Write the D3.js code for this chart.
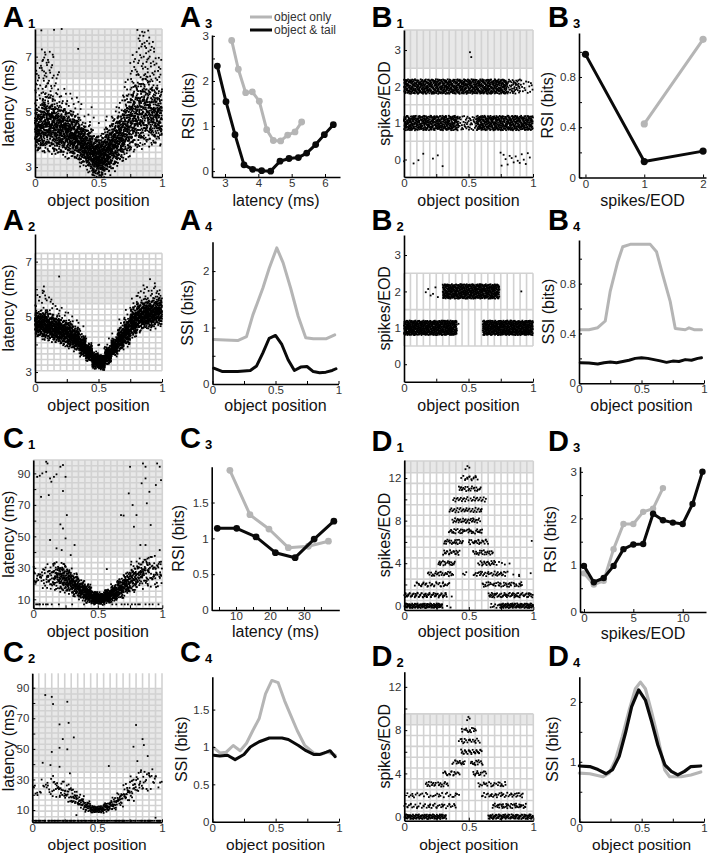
<!DOCTYPE html>
<html><head><meta charset="utf-8">
<script src="https://cdn.jsdelivr.net/npm/d3@7"></script>
<style>
body{margin:0;background:#fff}
svg{display:block}
text{font-family:"Liberation Sans",Arial,Helvetica,sans-serif}
</style>
</head><body>
<svg id="fig" width="709" height="853"></svg>
<script>
// ===================== DATA =====================
// --- A3: RSI vs latency
const A3_latOnly = [3.2,3.4,3.62,3.82,4.03,4.25,4.45,4.67,4.88,5.1,5.3];
const A3_rsiOnly = [2.9,2.26,1.74,1.76,1.55,0.92,0.68,0.67,0.8,0.87,1.09];
const A3_latTail = [2.77,3.03,3.3,3.57,3.83,4.1,4.37,4.65,4.92,5.2,5.45,5.72,5.98,6.25];
const A3_rsiTail = [2.33,1.54,0.81,0.14,0.04,0.01,0.0,0.22,0.28,0.3,0.4,0.59,0.81,1.03];
// --- B3: RSI vs spikes/EOD
const B3_spkOnly = [1,2];
const B3_rsiOnly = [0.426,1.1];
const B3_spkTail = [0,1,2];
const B3_rsiTail = [0.98,0.127,0.21];
// --- C3
const C3_latOnly = [8.2,14.1,19.7,25.4,31.3,37.2];
const C3_rsiOnly = [1.95,1.33,1.13,0.87,0.89,0.96];
const C3_latTail = [4.5,10.2,15.9,21.6,27.4,33.0,38.8];
const C3_rsiTail = [1.14,1.14,1.02,0.8,0.73,0.99,1.24];
// --- D3
const D3_spkOnly = [0,1,2,3,4,5,6,7,8];
const D3_rsiOnly = [0.82,0.58,0.66,1.34,1.88,1.88,2.14,2.21,2.65];
const D3_spkTail = [0,1,2,3,4,5,6,7,8,9,10,11,12];
const D3_rsiTail = [0.98,0.63,0.72,0.98,1.34,1.44,1.45,2.1,1.96,1.91,1.88,2.31,3.0];
// --- A4: SSI vs object position
const A4_posOnly = [0.01,0.1,0.2,0.27,0.32,0.4,0.45,0.51,0.56,0.62,0.68,0.74,0.8,0.9,0.97];
const A4_ssiOnly = [0.79,0.78,0.77,0.84,1.22,1.7,2.05,2.41,2.15,1.7,1.2,0.82,0.8,0.8,0.87];
const A4_posTail = [0.01,0.08,0.2,0.3,0.35,0.4,0.45,0.5,0.55,0.6,0.65,0.7,0.75,0.8,0.85,0.9,0.95,0.98];
const A4_ssiTail = [0.28,0.22,0.22,0.24,0.32,0.55,0.81,0.86,0.7,0.43,0.24,0.3,0.31,0.22,0.2,0.21,0.24,0.27];
// --- B4
const B4_posOnly = [0.01,0.08,0.15,0.21,0.25,0.31,0.35,0.41,0.5,0.57,0.62,0.67,0.73,0.77,0.85,0.88,0.92,0.98];
const B4_ssiOnly = [0.43,0.43,0.446,0.5,0.74,0.976,1.096,1.115,1.115,1.115,1.056,0.87,0.655,0.44,0.43,0.445,0.43,0.43];
const B4_posTail = [0.01,0.08,0.15,0.2,0.25,0.3,0.35,0.4,0.45,0.5,0.55,0.6,0.65,0.7,0.75,0.8,0.85,0.9,0.95,0.98];
const B4_ssiTail = [0.165,0.163,0.155,0.165,0.17,0.165,0.175,0.185,0.2,0.205,0.2,0.19,0.18,0.168,0.178,0.175,0.19,0.185,0.2,0.205];
// --- C4
const C4_posOnly = [0.01,0.06,0.11,0.165,0.22,0.27,0.32,0.37,0.42,0.47,0.52,0.57,0.62,0.67,0.73,0.8,0.86,0.91,0.97];
const C4_ssiOnly = [0.99,0.92,0.93,1.02,0.95,1.05,1.22,1.38,1.71,1.89,1.86,1.62,1.42,1.22,1.02,0.92,0.9,0.93,0.89];
const C4_posTail = [0.01,0.06,0.12,0.18,0.25,0.3,0.37,0.45,0.55,0.6,0.68,0.74,0.8,0.85,0.9,0.93,0.97];
const C4_ssiTail = [0.89,0.88,0.89,0.83,0.9,1.0,1.07,1.12,1.12,1.1,1.02,0.95,0.9,0.9,0.93,0.95,0.87];
// --- D4
const D4_posOnly = [0,0.084,0.19,0.24,0.29,0.345,0.4,0.45,0.49,0.53,0.58,0.635,0.686,0.725,0.817,0.895,0.974];
const D4_ssiOnly = [0.81,0.8,0.75,0.81,1.03,1.42,1.86,2.22,2.33,2.22,1.83,1.36,0.86,0.75,0.75,0.78,0.83];
const D4_posTail = [0,0.084,0.15,0.215,0.267,0.32,0.37,0.42,0.476,0.53,0.58,0.63,0.686,0.738,0.79,0.843,0.895,0.974];
const D4_ssiTail = [0.93,0.92,0.87,0.8,0.87,1.09,1.48,1.92,2.2,2.03,1.67,1.28,0.95,0.84,0.78,0.84,0.92,0.93];

// --- Scatter clouds: per object-position bin (20 bins of 0.05): dense band low/high, count, sparse tail top, tail count
const A1_lo    = [3.6,3.6,3.6,3.5,3.5,3.4,3.3,3.1,2.9,2.7,2.7,2.8,3.0,3.2,3.4,3.6,3.7,3.8,3.8,3.9];
const A1_hi    = [5.2,5.6,5.5,5.3,5.2,5.0,4.9,4.6,4.4,4.1,4.1,4.4,4.7,5.0,5.5,5.9,6.2,6.3,6.0,5.8];
const A1_n     = [130,140,140,140,140,140,140,150,160,170,170,160,150,140,130,120,110,110,110,110];
const A1_tailHi= [6.8,7.3,7.2,6.5,6.0,5.8,5.6,5.4,5.2,4.8,4.8,5.0,5.4,5.8,6.3,7.2,8.0,8.0,7.6,7.0];
const A1_nTail = [18,22,18,10,5,4,4,3,3,3,3,3,3,4,6,14,18,20,18,14];
const A1_extra = [[0.05,7.95],[0.15,7.97],[0.21,8.0],[0.34,7.28]];

const A2_lo    = [4.3,4.2,4.15,4.1,4.0,3.9,3.8,3.6,3.4,3.15,3.1,3.3,3.6,3.8,4.0,4.3,4.5,4.6,4.6,4.7];
const A2_hi    = [5.2,5.2,5.1,5.0,4.9,4.8,4.6,4.3,4.0,3.7,3.6,3.9,4.2,4.6,4.9,5.3,5.5,5.6,5.6,5.7];
const A2_n     = [130,140,140,140,140,140,140,140,140,150,150,140,140,140,140,140,140,140,140,130];
const A2_tailHi= [5.8,6.0,5.8,5.5,5.4,5.2,5.0,4.8,4.5,4.0,4.0,4.3,4.6,5.0,5.4,5.8,6.0,6.2,6.4,6.0];
const A2_nTail = [6,8,6,4,3,3,3,3,2,2,2,2,2,3,3,5,6,8,8,6];
const A2_extra = [[0.19,6.46],[0.07,6.1],[0.06,5.95]];

const C1_lo    = [18,17,16,16,15,14,12,10,8,7,7,8,9,11,13,15,17,18,18,16];
const C1_hi    = [33,32,32,34,33,30,26,22,19,15,14,16,19,23,27,31,35,38,38,36];
const C1_n     = [12,15,25,50,70,80,90,90,100,110,110,100,90,80,70,60,45,35,25,20];
const C1_floor = [3,3,2,1,0,0,1,1,0,0,0,1,2,1,2,2,2,1,2,1];
const C1_extra = [[0.03,87.8],[0.05,88.5],[0.07,90],[0.1,97.4],[0.11,96.3],[0.1,91],[0.13,86.8],[0.14,84.7],[0.16,87.8],[0.18,89.4],[0.21,94.2],[0.23,95.3],[0.25,87.8],[0.06,75.1],[0.12,76.2],[0.23,78.8],[0.26,63.5],[0.21,57.6],[0.23,55],[0.25,48.7],[0.13,47.7],[0.18,42.4],[0.22,41.3],[0.29,38.1],[0.32,44.5],
  [0.68,63.5],[0.7,63.2],[0.74,77.3],[0.77,69.9],[0.75,94.2],[0.85,96.3],[0.87,94.2],[0.87,86.8],[0.84,83.7],[0.9,78.3],[0.8,63.5],[0.88,71],[0.91,57.2],[0.96,96.3],[0.98,94.2],[0.95,82.6],[0.99,85.7],[0.78,56.1],[0.83,44.5],[0.87,44.5],[0.98,41.3],[0.99,33.9],[0.57,29.2],[0.76,33.9]];

const C2_lo    = [18,19,19,18,17,15,13,11,9,8,8,9,10,12,15,17,20,22,24,22];
const C2_hi    = [30,31,32,32,30,27,24,20,16,13,13,15,18,22,27,32,37,38,36,33];
const C2_n     = [4,5,8,12,15,18,22,25,30,35,35,30,25,22,20,18,14,10,8,4];
const C2_floor = [5,6,5,6,5,6,5,6,5,6,5,6,5,6,5,6,5,6,5,6];
const C2_extra = [[0.1,85.2],[0.15,84],[0.16,79.3],[0.21,66],[0.27,80.8],[0.28,67],[0.235,56.4],[0.27,49.7],[0.21,50.7],[0.32,57.5],[0.15,48],[0.08,40.9],[0.14,39.4],[0.21,38.3],[0.29,34],[0.59,38.8],[0.8,65.6],[0.78,51.4],[0.85,56.4],[0.86,52.5],[0.81,42],[0.89,45.3],[0.9,34],[0.95,31.8],[0.34,6.7],[0.95,5],[0.02,26],[0.04,19.8]];

// --- Discrete spike-count rasters: [spikes/EOD, position from, position to, number of trials]
const B1_runs = [[2,0,0.8,820],[2,0.8,0.9,45],[2,0.9,1,15],[1,0,0.42,420],[1,0.42,0.56,45],[1,0.56,1,440],[0,0,0.3,7],[0,0.74,0.99,16],[3,0.5,0.54,2]];
const B2_runs = [[2,0.15,0.3,6],[2,0.3,0.74,600],[2,0.89,0.91,1],[1,0,0.41,600],[1,0.42,0.44,1],[1,0.61,1,560]];
const D1_runs = [[0,0,0.3,110],[0,0.33,0.36,2],[0,0.66,0.74,8],[0,0.74,1,100],[1,0,0.33,70],[1,0.36,0.37,1],[1,0.65,1,70],
  [2,0.08,0.35,35],[2,0.6,0.92,45],[3,0.18,0.38,30],[3,0.45,0.5,3],[3,0.53,0.79,35],[3,0.8,0.98,5],
  [4,0.26,0.4,22],[4,0.57,0.72,22],[4,0.73,0.82,4],[5,0.3,0.43,22],[5,0.53,0.69,24],[6,0.3,0.46,25],[6,0.5,0.65,25],[6,0.98,0.99,1],
  [7,0.34,0.61,40],[8,0.37,0.59,35],[9,0.35,0.6,35],[10,0.37,0.64,30],[11,0.42,0.6,25],[12,0.44,0.57,15],[13,0.47,0.53,3]];
const D2_runs = [[0,0,0.33,110],[0,0.65,1,110],[1,0,0.4,45],[1,0.68,0.95,45],[2,0.02,0.43,35],[2,0.6,0.92,40],
  [3,0.16,0.35,25],[3,0.57,0.79,25],[4,0.3,0.43,18],[4,0.53,0.64,15],[5,0.37,0.47,15],[5,0.51,0.61,15],
  [6,0.44,0.6,30],[7,0.42,0.59,20],[8,0.44,0.56,15],[9,0.48,0.52,3]];

// --- Tick values: [labelled, unlabelled minor]
const xTicksPos = [[0,0.5,1],[0.25,0.75]];
const yTicksLat = [[3,5,7],[4,6]];
const yTicksLatC = [[10,30,50,70,90],[20,40,60,80]];
const yTicksSpk = [[0,1,2,3],[]];
const yTicksSpkD = [[0,4,8,12],[2,6,10]];

// ===================== LAYOUT =====================
const GREY = '#b5b5b5', BLACK = '#0a0a0a';
const GRIDC = '#d2d2d2', FILLC = '#e8e8e8';
const DOT = 1.8;
const svg = d3.select('#fig');

const L = {
 A1:{x0:35,x1:162,yt:29,yb:177,xDom:[0,1],yDom:[2.64,8.0],xT:xTicksPos,yT:yTicksLat,xLab:'object position',yLab:'latency (ms)',ylx:14,xly:206,xfs:16,L:'A',S:'1',lx:3,ly:27},
 A3:{x0:212,x1:340,yt:35,yb:177,xDom:[2.61,6.45],yDom:[-0.13,3.02],xT:[[3,4,5,6],[]],yT:[[0,1,2,3],[0.5,1.5,2.5]],xLab:'latency (ms)',yLab:'RSI (bits)',ylx:194,xly:206,xfs:16,L:'A',S:'3',lx:180,ly:27},
 B1:{x0:404,x1:533,yt:30,yb:177,xDom:[0,1],yDom:[-0.48,3.55],xT:xTicksPos,yT:yTicksSpk,xLab:'object position',yLab:'spikes/EOD',ylx:390,xly:206,xfs:16,L:'B',S:'1',lx:371.5,ly:27},
 B3:{x0:579,x1:706,yt:33,yb:177.5,xDom:[-0.11,2.05],yDom:[0,1.15],xT:[[0,1,2],[]],yT:[[0,0.4,0.8],[0.2,0.6,1.0]],xLab:'spikes/EOD',yLab:'RSI (bits)',ylx:553,xly:206,xfs:16,L:'B',S:'3',lx:548,ly:27},
 A2:{x0:35,x1:162,yt:234,yb:382,xDom:[0,1],yDom:[2.64,8.0],xT:xTicksPos,yT:yTicksLat,xLab:'object position',yLab:'latency (ms)',ylx:14,xly:411,xfs:16,L:'A',S:'2',lx:3,ly:230},
 A4:{x0:212.5,x1:338.5,yt:241.7,yb:384,xDom:[0,1],yDom:[0,2.52],xT:xTicksPos,yT:[[0,1,2],[0.5,1.5]],xLab:'object position',yLab:'SSI (bits)',ylx:193,xly:411,xfs:16,L:'A',S:'4',lx:180,ly:230},
 B2:{x0:404,x1:533,yt:235,yb:381.7,xDom:[0,1],yDom:[-0.48,3.55],xT:xTicksPos,yT:yTicksSpk,xLab:'object position',yLab:'spikes/EOD',ylx:390,xly:411,xfs:16,L:'B',S:'2',lx:371.5,ly:230},
 B4:{x0:579,x1:704,yt:240,yb:383.3,xDom:[0,1],yDom:[0,1.15],xT:xTicksPos,yT:[[0,0.4,0.8],[0.2,0.6,1.0]],xLab:'object position',yLab:'SSI (bits)',ylx:554,xly:411,xfs:16,L:'B',S:'4',lx:548,ly:230},
 C1:{x0:33.3,x1:162.3,yt:460,yb:608.3,xDom:[0,1],yDom:[4.3,98.5],xT:xTicksPos,yT:yTicksLatC,xLab:'object position',yLab:'latency (ms)',ylx:14,xly:637,xfs:16,L:'C',S:'1',lx:3,ly:448},
 C3:{x0:211.7,x1:339.3,yt:466.7,yb:610,xDom:[2.85,40.4],yDom:[0,2.0],xT:[[10,20,30],[5,15,25,35]],yT:[[0,0.5,1,1.5],[]],xLab:'latency (ms)',yLab:'RSI (bits)',ylx:184,xly:637,xfs:16,L:'C',S:'3',lx:180,ly:448},
 D1:{x0:404.3,x1:533.3,yt:460,yb:610,xDom:[0,1],yDom:[-0.4,13.7],xT:xTicksPos,yT:yTicksSpkD,xLab:'object position',yLab:'spikes/EOD',ylx:390,xly:637,xfs:16,L:'D',S:'1',lx:371.5,ly:451},
 D3:{x0:580,x1:706,yt:466.7,yb:612,xDom:[-0.4,12.36],yDom:[-0.01,3.11],xT:[[0,5,10],[]],yT:[[0,1,2,3],[0.5,1.5,2.5]],xLab:'spikes/EOD',yLab:'RSI (bits)',ylx:556,xly:639,xfs:16,L:'D',S:'3',lx:548,ly:451},
 C2:{x0:32.3,x1:162,yt:673.3,yb:822.3,xDom:[0,1],yDom:[2,99.4],xT:xTicksPos,yT:yTicksLatC,xLab:'object position',yLab:'latency (ms)',ylx:14,xly:849.5,xfs:15.5,L:'C',S:'2',lx:3,ly:662},
 C4:{x0:212.3,x1:339,yt:676.7,yb:821.7,xDom:[0,1],yDom:[0,1.94],xT:xTicksPos,yT:[[0,0.5,1,1.5],[]],xLab:'object position',yLab:'SSI (bits)',ylx:187,xly:849.5,xfs:15.5,L:'C',S:'4',lx:180,ly:662},
 D2:{x0:404.3,x1:533.3,yt:671.7,yb:820.7,xDom:[0,1],yDom:[-0.37,13.4],xT:xTicksPos,yT:yTicksSpkD,xLab:'object position',yLab:'spikes/EOD',ylx:390,xly:849.5,xfs:15.5,L:'D',S:'2',lx:371.5,ly:666},
 D4:{x0:579.3,x1:704,yt:676.7,yb:821.7,xDom:[0,1],yDom:[0,2.42],xT:xTicksPos,yT:[[0,1,2],[0.5,1.5]],xLab:'object position',yLab:'SSI (bits)',ylx:558,xly:849.5,xfs:15.5,L:'D',S:'4',lx:548,ly:666}
};

// grid specs for the scatter panels: horizontal edges, filled row spans, vertical line extent
const rangeEdges = (a,b,n) => d3.range(n+1).map(k => a + (b-a)*k/n);
const GRID = {
 A1:{h:rangeEdges(2.64,8.0,24), fills:[[16,24],[0,3]]},
 A2:{h:rangeEdges(3.05,7.3,21), fills:[[12,18]]},
 C1:{h:rangeEdges(4.3,98.5,26), fills:[[9,26]]},
 C2:{h:rangeEdges(2,89.5,24), fills:[[9,24]], vTop:99.4},
 B1:{h:[-0.48,0.5,1.5,2.5,3.55], fills:[[3,4]]},
 B2:{h:[0.5,1.5,2.5], fills:[]},
 D1:{h:[-0.4].concat(d3.range(0.5,13,1)).concat([13.6]), fills:[[13,14]]},
 D2:{h:[-0.37].concat(d3.range(0.5,10,1)), fills:[[9,10]]}
};
const vEdges = d3.range(21).map(k => k/20);

// ===================== HELPERS =====================
function halton(i,b){let f=1,r=0;while(i>0){f/=b;r+=f*(i%b);i=Math.floor(i/b);}return r;}

function makePanel(key){
  const p = L[key];
  const x = d3.scaleLinear().domain(p.xDom).range([p.x0,p.x1]);
  const y = d3.scaleLinear().domain(p.yDom).range([p.yb,p.yt]);
  const g = svg.append('g').attr('class','panel-'+key);
  return {key,p,x,y,g};
}

function drawGrid(P){
  const gs = GRID[P.key]; const {x,y,g} = P;
  const gg = g.append('g');
  const h = gs.h;
  gs.fills.forEach(([a,b]) => {
    gg.append('rect').attr('x',x(0)).attr('width',x(1)-x(0))
      .attr('y',y(h[b])).attr('height',y(h[a])-y(h[b])).attr('fill',FILLC);
  });
  const top = gs.vTop !== undefined ? gs.vTop : h[h.length-1];
  gg.selectAll('line.v').data(vEdges).join('line')
    .attr('x1',d=>x(d)).attr('x2',d=>x(d)).attr('y1',y(h[0])).attr('y2',y(top))
    .attr('stroke',GRIDC).attr('stroke-width',1.6);
  gg.selectAll('line.h').data(h).join('line')
    .attr('x1',x(0)).attr('x2',x(1)).attr('y1',d=>y(d)).attr('y2',d=>y(d))
    .attr('stroke',GRIDC).attr('stroke-width',1.6);
}

function drawDots(P, pts){
  const {x,y,g} = P;
  g.append('g').selectAll('rect').data(pts).join('rect')
    .attr('x',d=>x(d[0])-DOT/2).attr('y',d=>y(d[1])-DOT/2).attr('width',DOT).attr('height',DOT).attr('fill','#000');
}

function binCloud(lo,hi,n,tHi,nT,floorN,floorV){
  const pts=[]; let k=1;
  for(let i=0;i<lo.length;i++){
    const xa=i*0.05;
    for(let j=0;j<n[i];j++,k++){
      const u=halton(k,2), v=halton(k,3), w=halton(k,5);
      pts.push([xa+0.05*u, lo[i]+(hi[i]-lo[i])*(0.5+(v-0.5)*0.7+(w-0.5)*0.5)]);
    }
    if(nT) for(let j=0;j<nT[i];j++,k++){
      const u=halton(k,2), v=halton(k,3);
      pts.push([xa+0.05*u, hi[i]+(tHi[i]-hi[i])*v]);
    }
    if(floorN) for(let j=0;j<floorN[i];j++,k++){
      const u=halton(k,2);
      pts.push([xa+0.05*u, floorV]);
    }
  }
  return pts;
}

function runCloud(runs, jit){
  const pts=[]; let k=1;
  runs.forEach(([lev,xa,xb,n])=>{
    for(let j=0;j<n;j++,k++){
      const u=halton(k,2), v=halton(k,3);
      pts.push([xa+(xb-xa)*u, lev+(v-0.5)*2*jit]);
    }
  });
  return pts;
}

function drawSeries(P, xs, ys, color, markerR, width){
  const {x,y,g} = P;
  const data = xs.map((d,i)=>[d,ys[i]]);
  g.append('path').datum(data)
    .attr('d', d3.line().x(d=>x(d[0])).y(d=>y(d[1])))
    .attr('fill','none').attr('stroke',color).attr('stroke-width',width||3)
    .attr('stroke-linejoin','round').attr('stroke-linecap','round');
  if(markerR){
    g.append('g').selectAll('circle').data(data).join('circle')
      .attr('cx',d=>x(d[0])).attr('cy',d=>y(d[1])).attr('r',markerR).attr('fill',color);
  }
}

function drawAxes(P){
  const {p,x,y,g} = P;
  const fmt = d3.format('~g');
  const lab = set => d => set.includes(d) ? fmt(d) : '';
  const xs = p.xT[0].concat(p.xT[1]), ys = p.yT[0].concat(p.yT[1]);
  const ax = g.append('g').attr('transform',`translate(0,${p.yb})`)
    .call(d3.axisBottom(x).tickValues(xs).tickFormat(lab(p.xT[0])).tickSize(-3).tickSizeOuter(0).tickPadding(2));
  const ay = g.append('g').attr('transform',`translate(${p.x0},0)`)
    .call(d3.axisLeft(y).tickValues(ys).tickFormat(lab(p.yT[0])).tickSize(-3).tickSizeOuter(0).tickPadding(3));
  [ax,ay].forEach(a=>{
    a.select('.domain').attr('stroke','#000').attr('stroke-width',1.6);
    a.selectAll('.tick line').attr('stroke','#000').attr('stroke-width',1);
    a.selectAll('.tick text').attr('fill','#333').style('font-size','11.5px');
  });
  g.append('text').attr('x',(p.x0+p.x1)/2).attr('y',p.xly).attr('text-anchor','middle')
    .attr('fill','#111').style('font-size',p.xfs+'px').text(p.xLab);
  g.append('text').attr('transform',`translate(${p.ylx},${(p.yt+p.yb)/2}) rotate(-90)`)
    .attr('text-anchor','middle').attr('fill','#111').style('font-size','16px').text(p.yLab);
  g.append('text').attr('x',p.lx).attr('y',p.ly).attr('fill','#000')
    .style('font-size','29px').style('font-weight','bold').text(p.L);
  g.append('text').attr('x',p.lx+25).attr('y',p.ly+1).attr('fill','#000')
    .style('font-size','13px').style('font-weight','bold').text(p.S);
}

// ===================== DRAW =====================
{const P=makePanel('A1'); drawGrid(P);
 drawDots(P, binCloud(A1_lo,A1_hi,A1_n,A1_tailHi,A1_nTail).concat(A1_extra)); drawAxes(P);}
{const P=makePanel('A2'); drawGrid(P);
 drawDots(P, binCloud(A2_lo,A2_hi,A2_n,A2_tailHi,A2_nTail).concat(A2_extra)); drawAxes(P);}
{const P=makePanel('C1'); drawGrid(P);
 drawDots(P, binCloud(C1_lo,C1_hi,C1_n,null,null,C1_floor,6.8).concat(C1_extra)); drawAxes(P);}
{const P=makePanel('C2'); drawGrid(P);
 drawDots(P, binCloud(C2_lo,C2_hi,C2_n,null,null,C2_floor,3).concat(C2_extra)); drawAxes(P);}
{const P=makePanel('B1'); drawGrid(P); drawDots(P, runCloud(B1_runs,0.2)); drawAxes(P);}
{const P=makePanel('B2'); drawGrid(P); drawDots(P, runCloud(B2_runs,0.2)); drawAxes(P);}
{const P=makePanel('D1'); drawGrid(P); drawDots(P, runCloud(D1_runs,0.22)); drawAxes(P);}
{const P=makePanel('D2'); drawGrid(P); drawDots(P, runCloud(D2_runs,0.22)); drawAxes(P);}
{const P=makePanel('A3');
 drawSeries(P,A3_latOnly,A3_rsiOnly,GREY,3.4,3);
 drawSeries(P,A3_latTail,A3_rsiTail,BLACK,3.4,3);
 drawAxes(P);
 const lg=P.g.append('g');
 lg.append('line').attr('x1',250).attr('x2',272).attr('y1',17).attr('y2',17).attr('stroke',GREY).attr('stroke-width',3);
 lg.append('line').attr('x1',250).attr('x2',272).attr('y1',30).attr('y2',30).attr('stroke',BLACK).attr('stroke-width',3);
 lg.append('text').attr('x',274).attr('y',21).attr('fill','#333').style('font-size','12px').text('object only');
 lg.append('text').attr('x',274).attr('y',34).attr('fill','#333').style('font-size','12px').text('object & tail');
}
{const P=makePanel('B3');
 drawSeries(P,B3_spkOnly,B3_rsiOnly,GREY,3.6,3);
 drawSeries(P,B3_spkTail,B3_rsiTail,BLACK,3.6,3);
 drawAxes(P);}
{const P=makePanel('C3');
 drawSeries(P,C3_latOnly,C3_rsiOnly,GREY,3.4,3);
 drawSeries(P,C3_latTail,C3_rsiTail,BLACK,3.4,3);
 drawAxes(P);}
{const P=makePanel('D3');
 drawSeries(P,D3_spkOnly,D3_rsiOnly,GREY,3.2,3);
 drawSeries(P,D3_spkTail,D3_rsiTail,BLACK,3.2,3);
 drawAxes(P);}
{const P=makePanel('A4'); drawSeries(P,A4_posOnly,A4_ssiOnly,GREY,0,3); drawSeries(P,A4_posTail,A4_ssiTail,BLACK,0,3); drawAxes(P);}
{const P=makePanel('B4'); drawSeries(P,B4_posOnly,B4_ssiOnly,GREY,0,3); drawSeries(P,B4_posTail,B4_ssiTail,BLACK,0,3); drawAxes(P);}
{const P=makePanel('C4'); drawSeries(P,C4_posOnly,C4_ssiOnly,GREY,0,3); drawSeries(P,C4_posTail,C4_ssiTail,BLACK,0,3); drawAxes(P);}
{const P=makePanel('D4'); drawSeries(P,D4_posOnly,D4_ssiOnly,GREY,0,3.2); drawSeries(P,D4_posTail,D4_ssiTail,BLACK,0,3.2); drawAxes(P);}
</script>
</body></html>
